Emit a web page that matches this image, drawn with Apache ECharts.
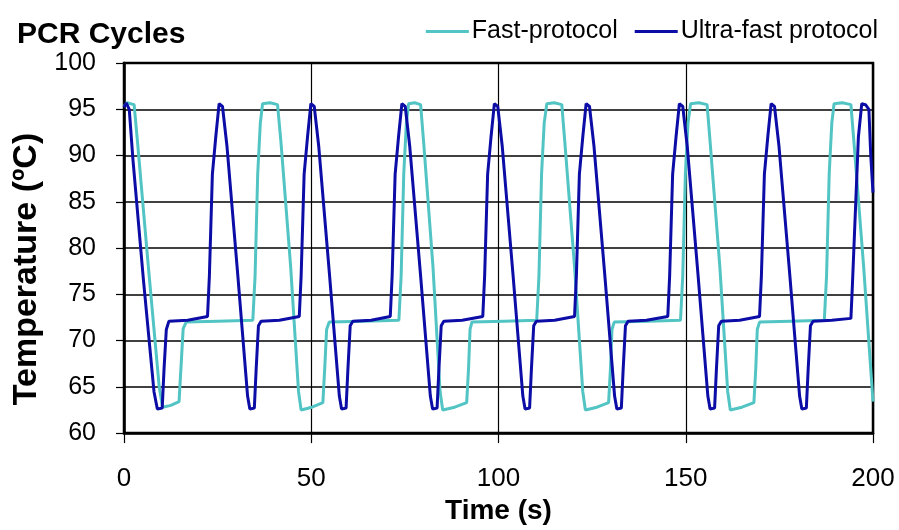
<!DOCTYPE html>
<html>
<head>
<meta charset="utf-8">
<script src="https://cdn.jsdelivr.net/npm/echarts@6/dist/echarts.min.js"></script>
<style>
html,body{margin:0;padding:0;background:#fff;}
#chart{width:899px;height:530px;}
</style>
</head>
<body>
<div id="chart"></div>
<script>
var titleText = 'PCR Cycles';
var yAxisTitle = 'Temperature (ºC)';
var xAxisTitle = 'Time (s)';
var seriesNames = ['Fast-protocol', 'Ultra-fast protocol'];
var xTicks = [0, 50, 100, 150, 200];
var yTicks = [60, 65, 70, 75, 80, 85, 90, 95, 100];

// Fast-protocol: [time (s), temperature (ºC)]
var fastProtocol = [
  [0, 95.3], [0.8, 95.7], [2.7, 95.5], [3.6, 91.5], [6.5, 78], [9.4, 65], [10.3, 62.8], [12.5, 63.0], [14.7, 63.4],
  [15.2, 67], [15.8, 71.3], [16.6, 72.0], [25, 72.1], [34.4, 72.2],
  [35.0, 77], [35.7, 88], [36.4, 93.5], [37.0, 95.6], [39, 95.7], [41.0, 95.5],
  [41.9, 91.5], [44.5, 78], [46.6, 64.5], [47.3, 62.5], [50.2, 62.8], [53.1, 63.3],
  [53.6, 67], [54.1, 71.2], [54.8, 72.0], [64, 72.1], [73.4, 72.2],
  [74.0, 77], [74.7, 88], [75.4, 93.5], [76.0, 95.6], [77.6, 95.7], [79.2, 95.5],
  [80.0, 91.5], [82.5, 78], [84.4, 64.5], [85.1, 62.5], [88.3, 62.8], [91.5, 63.3],
  [92.0, 67], [92.4, 71.2], [92.9, 72.0], [101.5, 72.1], [110.2, 72.2],
  [110.8, 77], [111.5, 88], [112.2, 93.5], [112.9, 95.6], [114.9, 95.7], [116.9, 95.5],
  [117.7, 91.5], [120.3, 78], [122.5, 64.5], [123.2, 62.5], [126.3, 62.8], [129.4, 63.3],
  [129.9, 67], [130.3, 71.2], [130.9, 72.0], [140, 72.1], [148.6, 72.2],
  [149.2, 77], [149.9, 88], [150.6, 93.5], [151.3, 95.6], [153.5, 95.7], [155.7, 95.5],
  [156.5, 91.5], [159.1, 78], [161.2, 64.5], [161.9, 62.5], [165, 62.8], [168.2, 63.3],
  [168.7, 67], [169.1, 71.2], [169.7, 72.0], [178, 72.1], [187.0, 72.2],
  [187.6, 77], [188.3, 88], [189.0, 93.5], [189.6, 95.6], [191.8, 95.7], [194.1, 95.5],
  [194.9, 91.5], [197.5, 78], [200, 63.4]
];

// Ultra-fast protocol: [time (s), temperature (ºC)]
var ultraFastProtocol = [
  [0, 95.2], [0.6, 95.7], [1.4, 95.0], [2.4, 89.5], [5.2, 76.5], [8.0, 64.5], [8.9, 62.6], [10.2, 62.7],
  [10.7, 67], [11.3, 71.2], [12.0, 72.1], [17, 72.2], [22.3, 72.6],
  [22.8, 77], [23.6, 88], [24.5, 92], [25.4, 95.6], [26.3, 95.3], [27.5, 91], [30.4, 77], [33.0, 64], [33.6, 62.6], [34.8, 62.7],
  [35.3, 67], [35.9, 71.6], [36.6, 72.1], [41.5, 72.2], [46.8, 72.6],
  [47.3, 77], [48.1, 88], [49.0, 92], [49.9, 95.6], [50.8, 95.3], [52.0, 91], [54.9, 77], [57.5, 64], [58.1, 62.6], [59.3, 62.7],
  [59.8, 67], [60.4, 71.6], [61.1, 72.1], [66, 72.2], [71.1, 72.6],
  [71.6, 77], [72.4, 88], [73.3, 92], [74.2, 95.6], [75.1, 95.3], [76.3, 91], [79.2, 77], [81.8, 64], [82.4, 62.6], [83.6, 62.7],
  [84.1, 67], [84.7, 71.6], [85.4, 72.1], [90.3, 72.2], [95.8, 72.6],
  [96.3, 77], [97.1, 88], [98.0, 92], [98.9, 95.6], [99.8, 95.3], [101.0, 91], [103.9, 77], [106.5, 64], [107.1, 62.6], [108.3, 62.7],
  [108.8, 67], [109.4, 71.6], [110.1, 72.1], [115, 72.2], [120.3, 72.6],
  [120.8, 77], [121.6, 88], [122.5, 92], [123.4, 95.6], [124.3, 95.3], [125.5, 91], [128.4, 77], [131.0, 64], [131.6, 62.6], [132.8, 62.7],
  [133.3, 67], [133.9, 71.6], [134.6, 72.1], [139.5, 72.2], [145.2, 72.6],
  [145.7, 77], [146.5, 88], [147.4, 92], [148.3, 95.6], [149.2, 95.3], [150.4, 91], [153.3, 77], [155.9, 64], [156.5, 62.6], [157.7, 62.7],
  [158.2, 67], [158.8, 71.6], [159.5, 72.1], [164.4, 72.2], [169.7, 72.6],
  [170.2, 77], [171.0, 88], [171.9, 92], [172.8, 95.6], [173.7, 95.3], [174.9, 91], [177.8, 77], [180.4, 64], [181.0, 62.6], [182.2, 62.7],
  [182.7, 67], [183.3, 71.6], [184.0, 72.1], [189, 72.2], [194.1, 72.4],
  [194.5, 76], [195.3, 84], [196.1, 92], [197.0, 95.6], [198.0, 95.5], [198.9, 95.0], [199.4, 90], [200, 86]
];

var FONT = '"Liberation Sans", Arial, sans-serif';
var chart = echarts.init(document.getElementById('chart'), null, {renderer: 'canvas'});
chart.setOption({
  backgroundColor: '#ffffff',
  animation: false,
  title: {
    text: titleText,
    left: 12, top: 15,
    textStyle: {fontFamily: FONT, fontSize: 30, fontWeight: 'bold', color: '#000'}
  },
  legend: {
    top: 14, right: 16,
    icon: 'rect',
    itemWidth: 43, itemHeight: 3, itemGap: 17,
    textStyle: {fontFamily: FONT, fontSize: 25, color: '#000', padding: [0, 0, 0, -2]},
    data: seriesNames
  },
  graphic: [{
    type: 'text',
    x: 27, y: 269,
    rotation: Math.PI / 2,
    style: {
      text: yAxisTitle,
      font: 'bold 34px "Liberation Sans", Arial, sans-serif',
      fill: '#000',
      textAlign: 'center',
      textVerticalAlign: 'middle'
    }
  }],
  grid: {
    left: 124, right: 26, top: 63, bottom: 90,
    show: true, borderColor: '#000', borderWidth: 2.5, backgroundColor: '#fff'
  },
  xAxis: {
    type: 'value', min: 0, max: 200, interval: 50,
    name: xAxisTitle, nameLocation: 'middle', nameGap: 58,
    nameTextStyle: {fontFamily: FONT, fontSize: 28, fontWeight: 'bold', color: '#000'},
    axisLine: {show: true, lineStyle: {color: '#000', width: 2.5}},
    axisTick: {show: true, length: 10, lineStyle: {color: '#000', width: 1.2}},
    axisLabel: {fontFamily: FONT, fontSize: 26, color: '#000', margin: 33,
      formatter: function (v) { return xTicks.indexOf(v) >= 0 ? String(v) : ''; }},
    splitLine: {show: true, lineStyle: {color: '#000', width: 1.2}}
  },
  yAxis: {
    type: 'value', min: 60, max: 100, interval: 5,
    axisLine: {show: true, lineStyle: {color: '#000', width: 2.5}},
    axisTick: {show: true, length: 8, lineStyle: {color: '#000', width: 1.2}},
    axisLabel: {fontFamily: FONT, fontSize: 25, color: '#000', margin: 28,
      formatter: function (v) { return yTicks.indexOf(v) >= 0 ? String(v) : ''; }},
    splitLine: {show: true, lineStyle: {color: '#000', width: 1.5}}
  },
  series: [
    {
      name: seriesNames[0], type: 'line', data: fastProtocol,
      showSymbol: false, symbol: 'none',
      lineStyle: {color: '#52C4C4', width: 3},
      itemStyle: {color: '#52C4C4'}
    },
    {
      name: seriesNames[1], type: 'line', data: ultraFastProtocol,
      showSymbol: false, symbol: 'none',
      lineStyle: {color: '#0C0CA6', width: 3},
      itemStyle: {color: '#0C0CA6'}
    }
  ]
});
</script>
</body>
</html>
